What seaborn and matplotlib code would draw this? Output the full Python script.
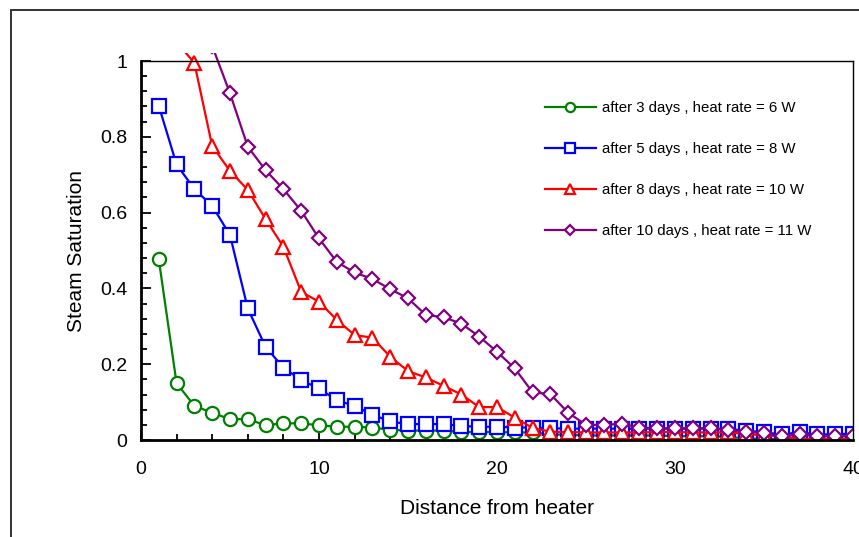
import matplotlib
matplotlib.use("Agg")
import matplotlib.pyplot as plt
import matplotlib.ticker as mticker
from matplotlib.patches import Rectangle
from matplotlib.transforms import Bbox, TransformedBbox
import seaborn as sns

# distance from heater (cells)
dist_3d = list(range(1, 41))
sat_3d = [0.477, 0.150, 0.090, 0.072, 0.055, 0.055, 0.039, 0.044, 0.044, 0.039,
          0.035, 0.035, 0.033, 0.027, 0.025, 0.025, 0.025, 0.021, 0.021, 0.021,
          0.020, 0.020, 0.015, 0.014, 0.012, 0.012, 0.012, 0.012, 0.012, 0.010,
          0.010, 0.010, 0.008, 0.004, 0.003, 0.002, 0.002, 0.002, 0.002, 0.002]

dist_5d = list(range(1, 41))
sat_5d = [0.882, 0.727, 0.662, 0.618, 0.541, 0.347, 0.246, 0.191, 0.158, 0.136,
          0.105, 0.090, 0.067, 0.049, 0.042, 0.042, 0.042, 0.037, 0.035, 0.035,
          0.033, 0.033, 0.031, 0.030, 0.030, 0.030, 0.030, 0.030, 0.030, 0.030,
          0.030, 0.030, 0.029, 0.025, 0.020, 0.015, 0.020, 0.015, 0.015, 0.017]

dist_8d = list(range(2, 41))
sat_8d = [1.05, 0.995, 0.776, 0.710, 0.660, 0.583, 0.510, 0.391, 0.365, 0.317,
          0.277, 0.270, 0.220, 0.182, 0.165, 0.143, 0.120, 0.087, 0.087, 0.059,
          0.032, 0.022, 0.021, 0.020, 0.020, 0.020, 0.020, 0.021, 0.021, 0.020,
          0.020, 0.020, 0.016, 0.012, 0.010, 0.003, 0.003, 0.003, 0.003]

dist_10d = list(range(3, 41))
sat_10d = [1.06, 1.04, 0.915, 0.774, 0.712, 0.662, 0.605, 0.532, 0.470, 0.442,
           0.425, 0.398, 0.374, 0.330, 0.324, 0.307, 0.273, 0.233, 0.189, 0.126,
           0.121, 0.072, 0.040, 0.040, 0.043, 0.033, 0.031, 0.031, 0.031, 0.031,
           0.026, 0.022, 0.018, 0.010, 0.015, 0.010, 0.010, 0.010]

series = [
    (dist_3d, sat_3d, "after 3 days , heat rate = 6 W", "green", "o", 9.5),
    (dist_5d, sat_5d, "after 5 days , heat rate = 8 W", "blue", "s", 9.5),
    (dist_8d, sat_8d, "after 8 days , heat rate = 10 W", "red", "^", 10.5),
    (dist_10d, sat_10d, "after 10 days , heat rate = 11 W", "purple", "D", 7.5),
]

plt.rcParams["font.family"] = ["Liberation Sans", "DejaVu Sans"]

fig = plt.figure(figsize=(8.59, 5.37), dpi=100)
ax = fig.add_axes([0.1641, 0.1806, 0.8289, 0.7058])

for x, y, lab, col, mk, ms in series:
    sns.lineplot(x=x, y=y, ax=ax, color=col, marker=mk, markersize=ms,
                 markerfacecolor="white", markeredgecolor=col,
                 markeredgewidth=1.6, linewidth=1.6, label=lab, errorbar=None)

# Excel-like plot area: lines poke a little above the top of the axes
clip = TransformedBbox(Bbox([[0, 0], [1, 1.022]]), ax.transAxes)
for ln in ax.lines:
    ln.set_clip_box(clip)

ax.set_xlim(0, 40)
ax.set_ylim(0, 1)
ax.xaxis.set_major_locator(mticker.MultipleLocator(10))
ax.xaxis.set_minor_locator(mticker.MultipleLocator(2))
ax.yaxis.set_major_locator(mticker.MultipleLocator(0.2))
ax.yaxis.set_minor_locator(mticker.MultipleLocator(0.04))
ax.yaxis.set_major_formatter(mticker.FormatStrFormatter("%g"))

ax.tick_params(which="both", direction="in", top=False, right=False,
               width=1.3, color="black")
ax.tick_params(which="major", length=7)
ax.tick_params(which="minor", length=4)
ax.tick_params(axis="x", which="major", labelsize=14, pad=15)
ax.tick_params(axis="y", which="major", labelsize=14, pad=10)

ax.spines["left"].set_linewidth(2)
ax.spines["bottom"].set_linewidth(2)
ax.spines["top"].set_linewidth(1)
ax.spines["right"].set_linewidth(1)

ax.set_xlabel("Distance from heater", fontsize=15, labelpad=15)
ax.set_ylabel("Steam Saturation", fontsize=15, labelpad=10)

ax.legend(loc="upper left", bbox_to_anchor=(0.634, 0.811),
          bbox_transform=fig.transFigure, frameon=False, fontsize=10.8,
          borderpad=0, borderaxespad=0, handlelength=3.4, handletextpad=0.4,
          labelspacing=1.8, markerscale=0.7)

# outer chart frame
fig.patches.append(Rectangle((11 / 859, -0.2), 2, 1 - 10 / 537 + 0.2,
                             transform=fig.transFigure, fill=False,
                             edgecolor="#222222", linewidth=1.3))

fig.savefig("out.png", dpi=100)
